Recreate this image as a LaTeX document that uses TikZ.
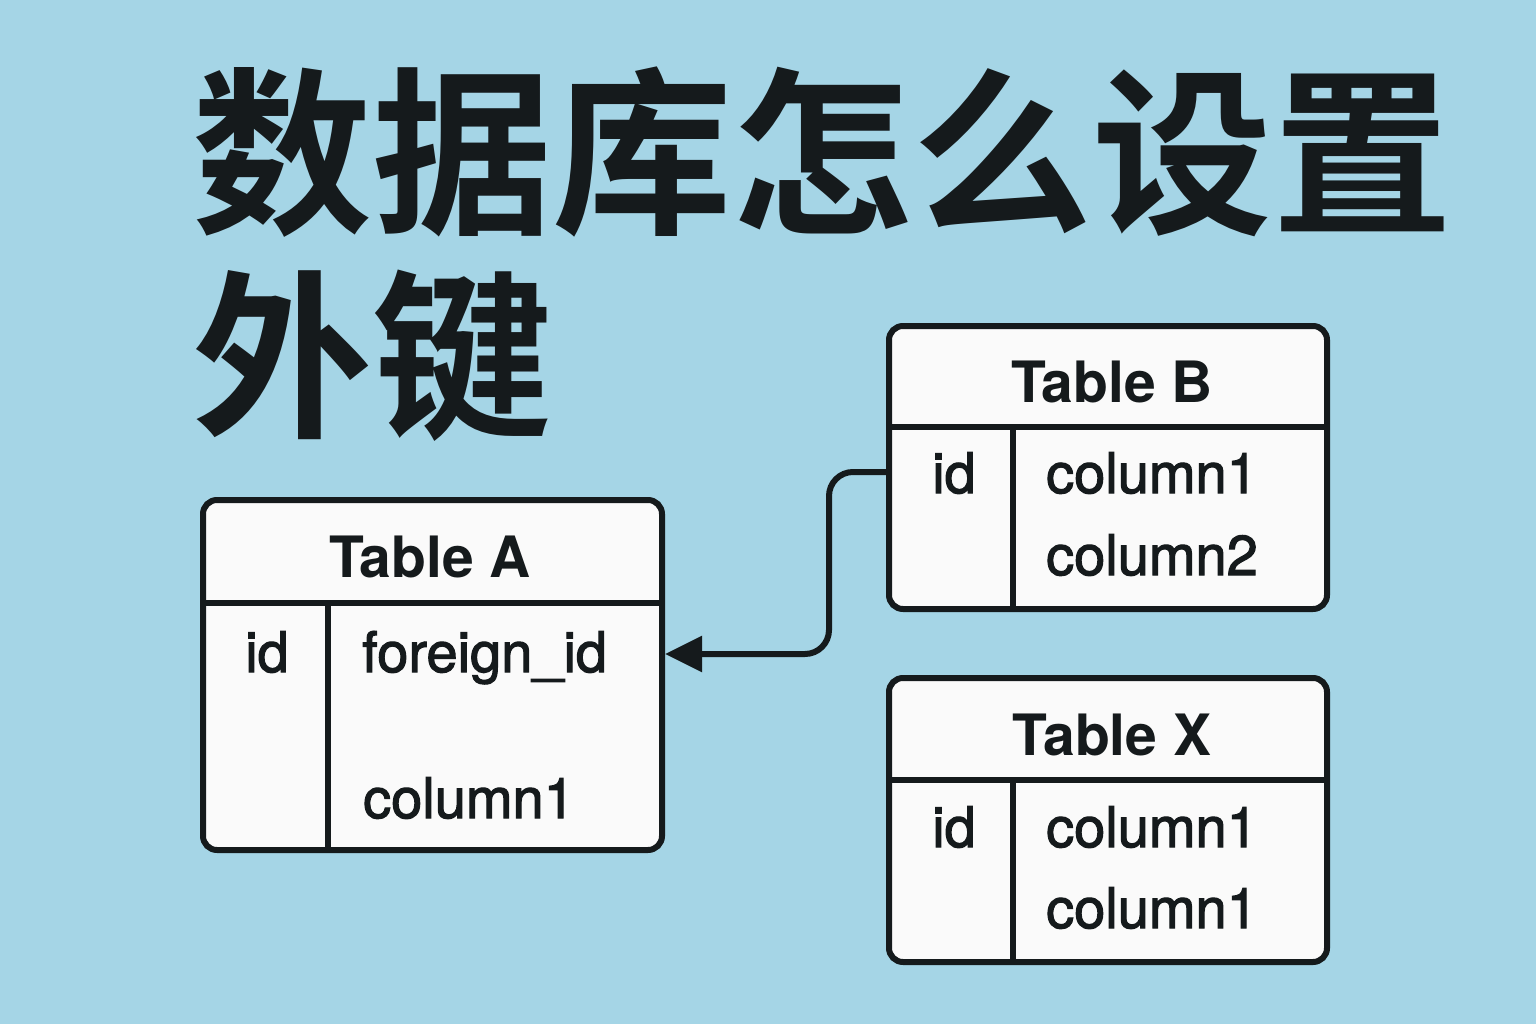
\documentclass[tikz,border=0pt]{standalone}
\usepackage{fontspec}
\setmainfont{TeX Gyre Heros}
\newfontfamily\cjk{Noto Sans CJK SC}[BoldFont={Noto Sans CJK SC Bold}]
\newfontfamily\fieldfont{TeX Gyre Heros}[FakeBold=2]
\usetikzlibrary{arrows.meta, positioning}

\definecolor{sky}{HTML}{A5D5E6}
\definecolor{ink}{HTML}{151A1C}
\definecolor{paper}{HTML}{FAFAFA}

\tikzset{
  tablebox/.style={draw=ink, fill=paper, line width=6pt, rounded corners=14pt, inner sep=0pt},
  rule/.style={draw=ink, line width=6pt},
  tablename/.style={anchor=base, text=ink, inner sep=0pt, font=\fontsize{57}{60}\selectfont\bfseries},
  field/.style={anchor=base west, text=ink, inner sep=0pt, font=\fieldfont\fontsize{56}{60}\selectfont},
  titleline/.style={anchor=base west, inner sep=0pt, text=ink, font=\cjk\bfseries\fontsize{180}{200}\selectfont},
  fk/.style={draw=ink, line width=6pt, rounded corners=24pt, -{Triangle[length=37pt, width=35pt]}}
}

\begin{document}
\begin{tikzpicture}[x=1pt, y=-1pt]

%% background
\fill[sky] (0,0) rectangle (1536,1024);
\useasboundingbox (0,0) rectangle (1536,1024);

%% title
\node[titleline] (title1) at (192,221) {数据库怎么设置};
\node[titleline] (title2) at (192,423) {外键};

%% table A
\node[tablebox, minimum width=459pt, minimum height=350pt] (tableA) at (432.5,675) {};
\draw[rule] (tableA.west |- 0,603) -- (tableA.east |- 0,603);
\draw[rule] (328,603) -- (tableA.south -| 328,0);
\node[tablename] (nameA) at (430,577) {Table A};
\node[field] (idA) at (245,672) {id};
\node[field] (fidA) at (362,672) {foreign\_id};
\node[field] (colA) at (363,818) {column1};

%% table B
\node[tablebox, minimum width=438pt, minimum height=283pt] (tableB) at (1108,467.5) {};
\draw[rule] (tableB.west |- 0,427) -- (tableB.east |- 0,427);
\draw[rule] (1013,427) -- (tableB.south -| 1013,0);
\node[tablename] (nameB) at (1112,402) {Table B};
\node[field] (idB) at (932,493) {id};
\node[field] (colB1) at (1046,493) {column1};
\node[field] (colB2) at (1046,575) {column2};

%% table X
\node[tablebox, minimum width=438pt, minimum height=284pt] (tableX) at (1108,820) {};
\draw[rule] (tableX.west |- 0,780) -- (tableX.east |- 0,780);
\draw[rule] (1013,780) -- (tableX.south -| 1013,0);
\node[tablename] (nameX) at (1112,755) {Table X};
\node[field] (idX) at (932,847) {id};
\node[field] (colX1) at (1046,847) {column1};
\node[field] (colX2) at (1046,928) {column1};

%% foreign key
\draw[fk] ([yshift=-4.5pt]tableB.west) -- ++(-57,0) |- ([yshift=21pt]tableA.east);

\end{tikzpicture}
\end{document}
